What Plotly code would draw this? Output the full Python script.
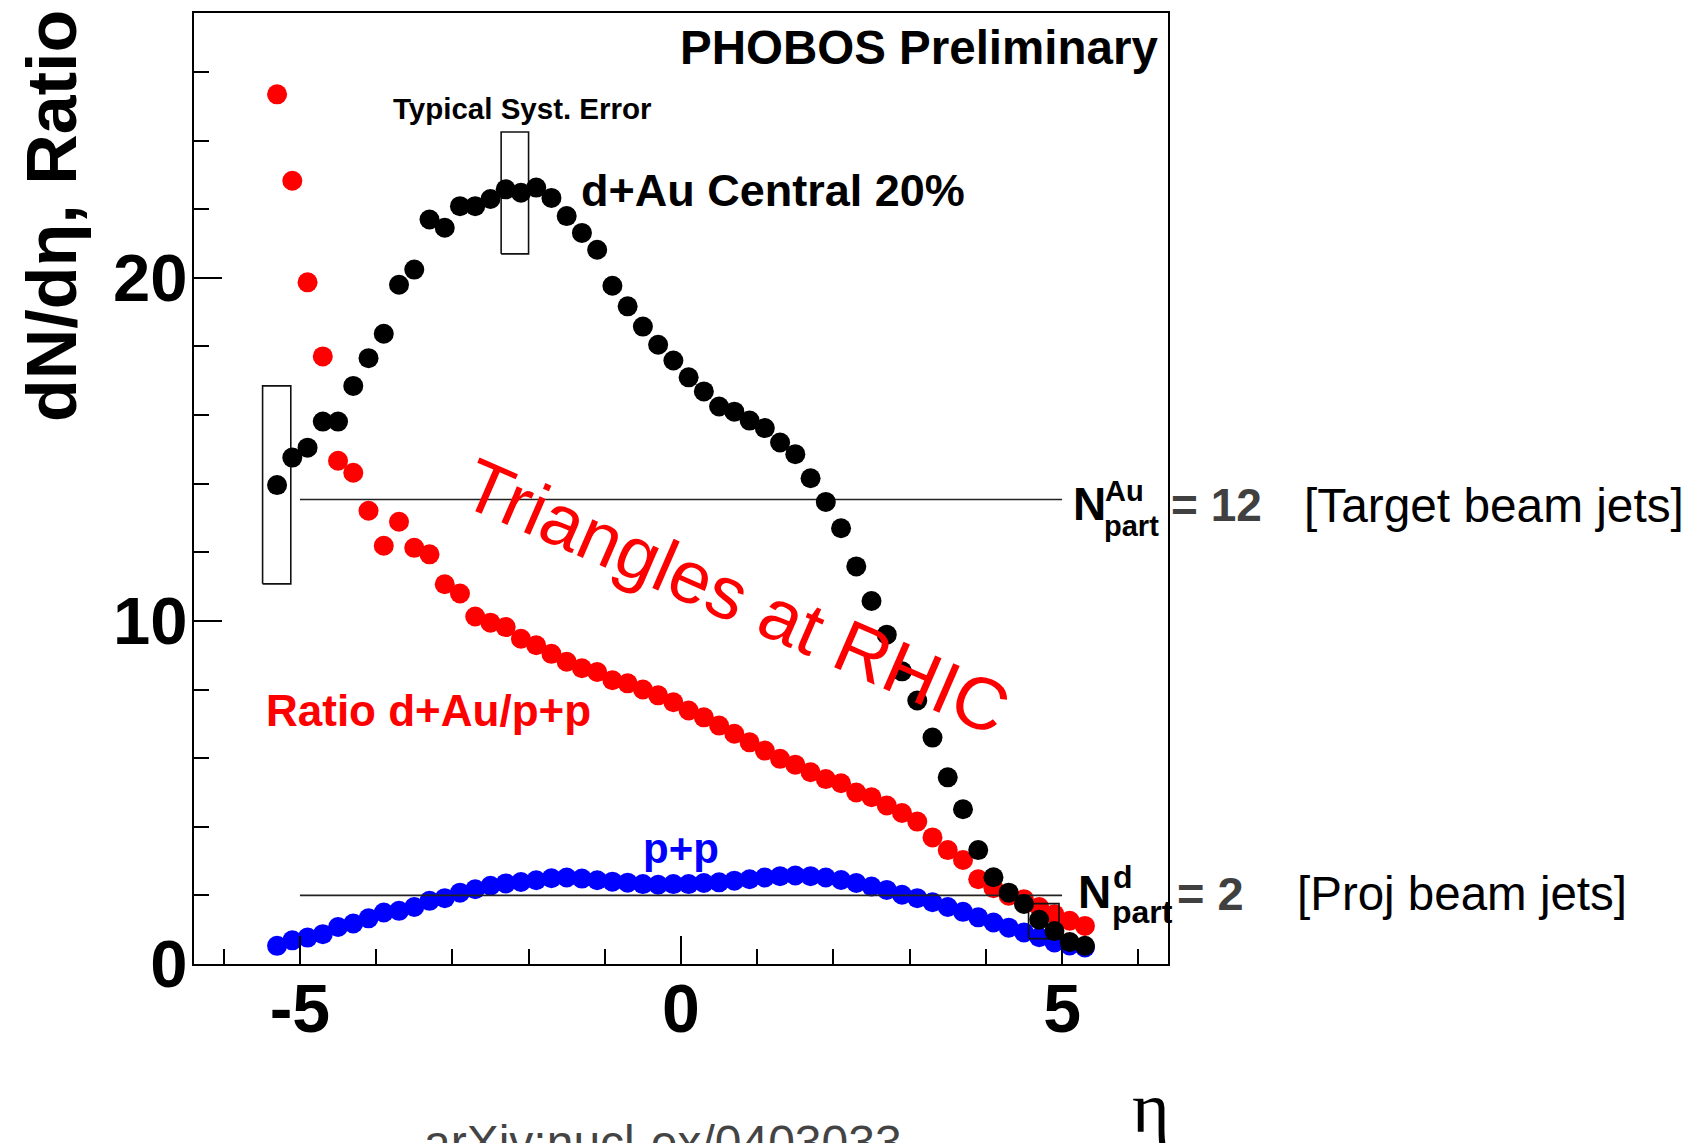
import plotly.graph_objects as go

# ---------------- data ----------------
eta = [-5.3, -5.1, -4.9, -4.7, -4.5, -4.3, -4.1, -3.9, -3.7, -3.5,
       -3.3, -3.1, -2.9, -2.7, -2.5, -2.3, -2.1, -1.9, -1.7, -1.5,
       -1.3, -1.1, -0.9, -0.7, -0.5, -0.3, -0.1, 0.1, 0.3, 0.5,
       0.7, 0.9, 1.1, 1.3, 1.5, 1.7, 1.9, 2.1, 2.3, 2.5,
       2.7, 2.9, 3.1, 3.3, 3.5, 3.7, 3.9, 4.1, 4.3, 4.5,
       4.7, 4.9, 5.1, 5.3]

dau_central = [13.96, 14.76, 15.05, 15.81, 15.81, 16.85, 17.66, 18.37, 19.80, 20.24,
               21.70, 21.46, 22.09, 22.09, 22.30, 22.58, 22.48, 22.63, 22.33, 21.80,
               21.31, 20.82, 19.77, 19.17, 18.58, 18.05, 17.59, 17.10, 16.69, 16.25,
               16.10, 15.84, 15.62, 15.20, 14.86, 14.16, 13.47, 12.70, 11.59, 10.58,
               9.60, 8.53, 7.68, 6.60, 5.44, 4.51, 3.32, 2.53, 2.08, 1.75,
               1.29, 0.96, 0.64, 0.53]

ratio = [25.35, 22.83, 19.87, 17.71, 14.67, 14.32, 13.21, 12.19, 12.89, 12.13,
         11.94, 11.07, 10.80, 10.13, 9.95, 9.82, 9.48, 9.29, 9.04, 8.81,
         8.62, 8.51, 8.27, 8.18, 8.00, 7.83, 7.63, 7.39, 7.19, 6.95,
         6.71, 6.46, 6.22, 5.98, 5.81, 5.59, 5.39, 5.27, 5.00, 4.86,
         4.62, 4.40, 4.15, 3.69, 3.32, 3.03, 2.47, 2.21, 1.99, 1.89,
         1.66, 1.45, 1.26, 1.11]

pp = [0.53, 0.69, 0.77, 0.87, 1.08, 1.18, 1.33, 1.50, 1.55, 1.66,
      1.84, 1.92, 2.08, 2.18, 2.28, 2.35, 2.39, 2.44, 2.50, 2.52,
      2.49, 2.44, 2.40, 2.37, 2.33, 2.31, 2.33, 2.33, 2.36, 2.38,
      2.43, 2.47, 2.52, 2.56, 2.58, 2.56, 2.52, 2.45, 2.36, 2.26,
      2.16, 2.02, 1.92, 1.80, 1.66, 1.52, 1.36, 1.21, 1.06, 0.92,
      0.78, 0.63, 0.54, 0.48]

# reference lines (N_part levels)
line_x = [-5.0, 5.0]
npart_au_level = 13.54
npart_d_level = 2.0

# systematic-error boxes: (eta_low, eta_high, y_low, y_high)
syst_boxes = [(-5.49, -5.12, 11.08, 16.85),
              (-2.36, -2.00, 20.70, 24.25),
              (4.56, 4.96, 0.74, 1.76)]

x_ticks = [-5, 0, 5]
x_ticktext = ["-5", "0", "5"]
y_ticks = [0, 10, 20]
y_ticktext = ["0", "10", "20"]

# ---------------- layout geometry ----------------
W, H = 1691, 1143
L, R, T, B = 194, 1168, 13, 964   # plot-area pixel edges


def px(xp):
    return (xp - L) / (R - L)


def py(yp):
    return (B - yp) / (B - T)


SANS = "Liberation Sans, Arial, Helvetica, sans-serif"
SERIF = "Liberation Serif, Times New Roman, serif"

fig = go.Figure()

marker_size = 20
fig.add_trace(go.Scatter(x=eta, y=pp, mode="markers",
                         marker=dict(color="#0000ff", size=marker_size, line=dict(width=0)),
                         name="p+p", showlegend=False))
fig.add_trace(go.Scatter(x=eta, y=ratio, mode="markers",
                         marker=dict(color="#ff0000", size=marker_size, line=dict(width=0)),
                         name="Ratio", showlegend=False))
for lvl in (npart_au_level, npart_d_level):
    fig.add_trace(go.Scatter(x=line_x, y=[lvl, lvl], mode="lines",
                             line=dict(color="#222222", width=1.6),
                             showlegend=False, hoverinfo="skip"))
for (x0, x1, y0, y1) in syst_boxes:
    fig.add_trace(go.Scatter(x=[x0, x1, x1, x0, x0], y=[y0, y0, y1, y1, y0],
                             mode="lines", line=dict(color="#111111", width=1.6),
                             showlegend=False, hoverinfo="skip"))
fig.add_trace(go.Scatter(x=eta, y=dau_central, mode="markers",
                         marker=dict(color="#000000", size=marker_size, line=dict(width=0)),
                         name="d+Au", showlegend=False))

ann = []


def A(text, x, y, size, color="black", bold=False, xanchor="center",
      yanchor="middle", angle=0, family=SANS):
    ann.append(dict(text=text, x=px(x), y=py(y), xref="paper", yref="paper",
                    showarrow=False, xanchor=xanchor, yanchor=yanchor,
                    textangle=angle,
                    font=dict(family=family, size=size, color=color,
                              weight="bold" if bold else "normal")))


A("PHOBOS Preliminary", 1160, 48, 47.5, bold=True, xanchor="right")
A("Typical Syst. Error", 522, 108, 29.5, bold=True)
A("d+Au Central 20%", 773, 191, 45, bold=True)
A("Ratio d+Au/p+p", 428, 710, 44, color="#ff0000", bold=True)
A("p+p", 681, 848, 42, color="#0000ff", bold=True)
A("Triangles at RHIC", 736, 596, 74, color="#ff0000", angle=23.5)
A("dN/dη, Ratio", 52, 216, 70, bold=True, angle=-90)

# right-hand side labels
A("N", 1089, 504, 46, bold=True)
A("Au", 1103, 491, 29, bold=True, xanchor="left")
A("part", 1102, 526, 29, bold=True, xanchor="left")
A("= 12", 1216, 505, 46, color="#404040", bold=True)
A("[Target beam jets]", 1302, 505, 47.8, xanchor="left")

A("N", 1094, 892, 46, bold=True)
A("d", 1111, 877, 32, bold=True, xanchor="left")
A("part", 1110, 912, 32, bold=True, xanchor="left")
A("= 2", 1210, 893, 47, color="#404040", bold=True)
A("[Proj beam jets]", 1295, 893, 47.5, xanchor="left")

A("η", 1151, 1108, 72, family=SERIF)
A("arXiv:nucl-ex/0403033", 663, 1142, 48, color="#444444")

fig.update_layout(
    width=W, height=H,
    margin=dict(l=L, r=W - R, t=T, b=H - B, pad=0),
    paper_bgcolor="white", plot_bgcolor="white",
    showlegend=False,
    annotations=ann,
    xaxis=dict(range=[-6.39, 6.39], showgrid=False, zeroline=False,
               showline=True, linecolor="black", linewidth=2, mirror=True,
               ticks="inside", ticklen=28, tickwidth=1.5, tickcolor="black",
               tickvals=x_ticks, ticktext=x_ticktext,
               tickfont=dict(family=SANS, size=68, color="black", weight="bold"),
               ticklabelstandoff=-16,
               minor=dict(dtick=1, tick0=0, ticks="inside", ticklen=15,
                          tickwidth=1.5, tickcolor="black", showgrid=False)),
    yaxis=dict(range=[0, 27.72], showgrid=False, zeroline=False,
               showline=True, linecolor="black", linewidth=2, mirror=True,
               ticks="inside", ticklen=28, tickwidth=1.5, tickcolor="black",
               tickvals=y_ticks, ticktext=y_ticktext,
               tickfont=dict(family=SANS, size=67, color="black", weight="bold"),
               ticklabelstandoff=-9,
               minor=dict(dtick=2, tick0=0, ticks="inside", ticklen=15,
                          tickwidth=1.5, tickcolor="black", showgrid=False)),
)

fig.write_html("out.html")
